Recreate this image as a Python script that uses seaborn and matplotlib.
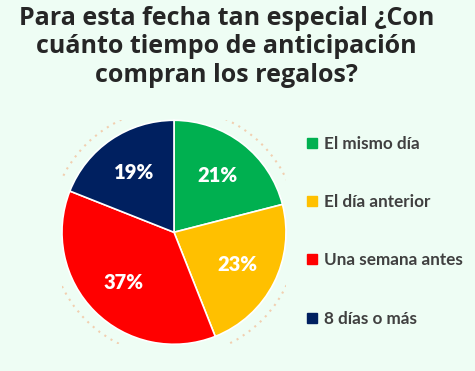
import seaborn as sns
import matplotlib.pyplot as plt
from matplotlib.lines import Line2D
from matplotlib.patches import Circle

# data
categories = ['El mismo día', 'El día anterior', 'Una semana antes', '8 días o más']
percentages = [21, 23, 37, 19]
colors = ['#00B050', '#FFC000', '#FF0000', '#002060']
title = 'Para esta fecha tan especial ¿Con\ncuánto tiempo de anticipación\ncompran los regalos?'

sns.set_theme(style='white')
plt.rcParams['font.family'] = ['Open Sans', 'DejaVu Sans']
bg = '#EEFDF4'

fig = plt.figure(figsize=(4.75, 3.71), dpi=100, facecolor=bg)

# pie axes
ax = fig.add_axes([0.1305, 0.072, 0.4716, 0.6038])
ax.set_facecolor(bg)
wedges, texts, autotexts = ax.pie(
    percentages, colors=sns.color_palette(colors), startangle=90, counterclock=False,
    autopct='%d%%', pctdistance=0.64, radius=1,
    wedgeprops={'edgecolor': 'white', 'linewidth': 1.2},
    textprops={'color': 'white', 'fontsize': 14.5, 'fontweight': 'heavy',
               'family': ['Lato', 'DejaVu Sans']})
# faint decorative ring around the pie
ring = Circle((0, 0), 1.11, fill=False, edgecolor='#F4B183', linewidth=1.5,
              linestyle=(0, (1, 2.5)), alpha=0.6)
ax.add_patch(ring)
ax.set_xlim(-1, 1)
ax.set_ylim(-1, 1)
ax.set_aspect('equal')
ax.axis('off')

# title
fig.text(0.477, 0.985, title, ha='center', va='top', fontsize=18, fontweight='bold',
         color='#262626', linespacing=1.2)

# legend
handles = [Line2D([0], [0], marker='s', linestyle='', markersize=7,
                  markerfacecolor=c, markeredgecolor=c) for c in colors]
leg = fig.legend(handles, categories, loc='upper left', bbox_to_anchor=(0.613, 0.675),
                 frameon=False, labelspacing=2.47, handlelength=0.6, handletextpad=0.4,
                 prop={'family': ['Lato', 'DejaVu Sans'], 'weight': 'bold', 'size': 12.3})
for t in leg.get_texts():
    t.set_color('#404040')

fig.savefig('out.png', dpi=100, facecolor=bg)
